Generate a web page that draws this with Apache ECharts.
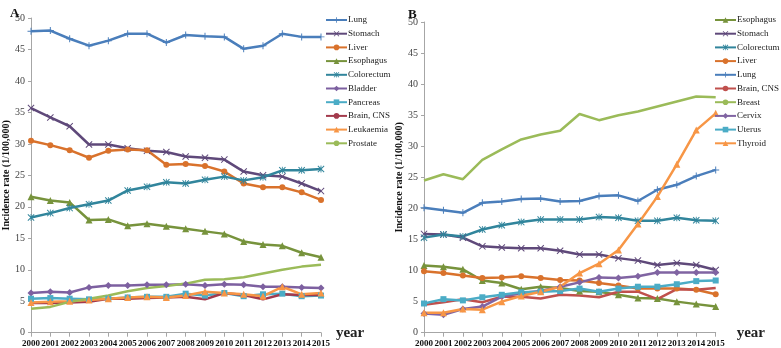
<!DOCTYPE html>
<html>
<head>
<meta charset="utf-8">
<script src="https://cdn.jsdelivr.net/npm/echarts@6/dist/echarts.min.js"></script>
<style>
  html, body { margin: 0; padding: 0; background: #fff; }
  #chart { width: 781px; height: 348px; }
</style>
</head>
<body>
<div id="chart"></div>
<script>
// years (x axis)
var years = ["2000","2001","2002","2003","2004","2005","2006","2007","2008","2009","2010","2011","2012","2013","2014","2015"];

// panel A
var aLung      = [47.9,48.0,46.7,45.6,46.4,47.5,47.5,46.1,47.3,47.1,47.0,45.1,45.6,47.5,47.0,47.0];
var aStomach   = [35.7,34.2,32.8,29.9,29.9,29.3,28.9,28.7,28.0,27.8,27.5,25.6,25.0,24.8,23.7,22.5];
var aLiver     = [30.5,29.8,29.0,27.8,28.9,29.1,29.0,26.7,26.8,26.5,25.6,23.7,23.1,23.1,22.3,21.1];
var aEsophagus = [21.6,21.0,20.7,17.9,18.0,17.0,17.3,16.9,16.5,16.1,15.7,14.5,14.0,13.8,12.7,12.0];
var aColorect  = [18.3,19.0,19.8,20.4,21.0,22.6,23.2,23.9,23.7,24.3,24.8,24.2,24.7,25.8,25.8,26.0];
var aBladder   = [6.3,6.5,6.4,7.2,7.5,7.5,7.6,7.6,7.7,7.5,7.7,7.6,7.3,7.3,7.2,7.1];
var aPancreas  = [5.4,5.5,5.4,5.3,5.4,5.6,5.7,5.7,6.2,5.9,6.3,5.8,6.1,6.2,5.8,5.9];
var aBrain     = [4.7,4.7,4.8,4.9,5.4,5.4,5.5,5.6,5.7,5.3,6.3,6.0,5.3,6.1,6.0,6.0];
var aLeuk      = [4.8,4.9,5.0,5.2,5.4,5.6,5.7,5.6,5.9,6.5,6.3,6.1,5.8,7.3,6.1,6.3];
var aProstate  = [3.8,4.1,4.9,5.4,5.9,6.6,7.1,7.4,7.8,8.4,8.5,8.8,9.4,10.0,10.5,10.8];

// panel B
var bEsophagus = [10.8,10.6,10.2,8.4,8.0,7.0,7.4,7.2,6.7,6.6,6.1,5.6,5.5,5.0,4.6,4.2];
var bStomach   = [15.9,15.8,15.3,13.9,13.7,13.6,13.6,13.2,12.6,12.6,12.0,11.6,10.9,11.2,10.9,10.1];
var bColorect  = [15.3,15.8,15.5,16.6,17.3,17.8,18.2,18.2,18.2,18.6,18.5,18.0,18.0,18.5,18.1,18.0];
var bLiver     = [9.9,9.6,9.2,8.8,8.9,9.1,8.8,8.5,8.4,8.0,7.6,7.1,7.1,7.1,6.9,6.2];
var bLung      = [20.1,19.7,19.3,20.9,21.1,21.5,21.6,21.1,21.2,22.0,22.1,21.2,23.0,23.8,25.2,26.2];
var bBrain     = [4.5,4.9,5.4,4.9,5.8,5.8,5.5,6.1,6.0,5.7,6.6,6.6,5.4,7.0,6.9,7.2];
var bBreast    = [24.5,25.5,24.7,27.8,29.5,31.1,31.9,32.5,35.2,34.2,35.0,35.6,36.4,37.2,38.0,37.9];
var bCervix    = [3.1,2.9,3.8,4.2,5.8,6.4,6.7,7.4,8.1,8.9,8.8,9.1,9.7,9.7,9.7,9.7];
var bUterus    = [4.7,5.4,5.2,5.7,6.1,6.5,6.6,6.7,7.1,6.6,7.1,7.4,7.4,7.8,8.3,8.4];
var bThyroid   = [3.2,3.2,3.8,3.7,5.0,5.9,6.6,7.4,9.6,11.1,13.3,17.5,21.9,27.1,32.6,35.3];

var FONT = "Liberation Serif";
var PLUS = "path://M4.3,0h1.4v4.3h4.3v1.4h-4.3v4.3h-1.4v-4.3h-4.3v-1.4h4.3z";
var CROSS = "path://M0,1L1,0L5,4L9,0L10,1L6,5L10,9L9,10L5,6L1,10L0,9L4,5Z";
var STAR = "path://M0,1L1,0L5,4L9,0L10,1L6,5L10,9L9,10L5,6L1,10L0,9L4,5Z M4.4,0h1.2v10h-1.2z";

function mk(name, data, color, symbol, idx) {
  return {
    name: name,
    type: "line",
    xAxisIndex: idx,
    yAxisIndex: idx,
    data: data,
    symbol: symbol || "none",
    symbolSize: symbol === "circle" || symbol === "rect" ? 6 : 7,
    showSymbol: !!symbol,
    lineStyle: { width: 2.5, color: color },
    itemStyle: { color: color },
    animation: false
  };
}

function xAx(idx, gap) {
  return {
    type: "category",
    gridIndex: idx,
    data: years,
    boundaryGap: false,
    name: "year",
    nameLocation: "end",
    nameGap: gap,
    nameTextStyle: { fontFamily: FONT, fontWeight: "bold", fontSize: 15, color: "#222", verticalAlign: "middle" },
    axisLine: { lineStyle: { color: "#a6a6a6" } },
    axisTick: { show: true, length: 4, lineStyle: { color: "#a6a6a6" } },
    axisLabel: { interval: 0, fontFamily: FONT, fontWeight: "bold", fontSize: 9, color: "#111", margin: 6 },
    splitLine: { show: false }
  };
}

function yAx(idx, gap) {
  return {
    type: "value",
    gridIndex: idx,
    min: 0, max: 50, interval: 5,
    name: "Incidence rate (1/100,000)",
    nameLocation: "middle",
    nameRotate: 90,
    nameGap: gap,
    nameTextStyle: { fontFamily: FONT, fontWeight: "bold", fontSize: 10, color: "#111" },
    axisLine: { show: true, lineStyle: { color: "#a6a6a6" } },
    axisTick: { show: true, length: 3, lineStyle: { color: "#a6a6a6" } },
    axisLabel: { fontFamily: FONT, fontSize: 10, color: "#444", margin: 6 },
    splitLine: { show: false }
  };
}

function lg(left, names) {
  return {
    orient: "vertical",
    left: left,
    top: 15,
    padding: 0,
    data: names,
    itemWidth: 21,
    itemHeight: 7,
    itemGap: 3.7,
    textStyle: { fontFamily: FONT, fontSize: 9, color: "#222", lineHeight: 10, padding: [0, 0, 0, -4] }
  };
}

var chart = echarts.init(document.getElementById("chart"));
var option = {
  backgroundColor: "#fff",
  title: [
    { text: "A", left: 5, top: 2, textStyle: { fontFamily: FONT, fontWeight: "bold", fontSize: 13, color: "#111" } },
    { text: "B", left: 403, top: 3, textStyle: { fontFamily: FONT, fontWeight: "bold", fontSize: 13, color: "#111" } }
  ],
  grid: [
    { left: 28, top: 18, width: 293, height: 314.7 },
    { left: 424, top: 22, width: 291.7, height: 310.7 }
  ],
  xAxis: [xAx(0, 12), xAx(1, 21)],
  yAxis: [yAx(0, 20), yAx(1, 18)],
  legend: [
    lg(325, ["Lung","Stomach","Liver","Esophagus","Colorectum","Bladder","Pancreas","Brain, CNS","Leukaemia","Prostate"]),
    lg(714, ["Esophagus ","Stomach ","Colorectum ","Liver ","Lung ","Brain, CNS ","Breast","Cervix","Uterus","Thyroid"])
  ],
  series: [
    mk("Lung", aLung, "#4a7ebb", PLUS, 0),
    mk("Stomach", aStomach, "#5f497a", CROSS, 0),
    mk("Liver", aLiver, "#d9722c", "circle", 0),
    mk("Esophagus", aEsophagus, "#77933c", "triangle", 0),
    mk("Colorectum", aColorect, "#31859c", STAR, 0),
    mk("Bladder", aBladder, "#7d60a0", "diamond", 0),
    mk("Pancreas", aPancreas, "#4bacc6", "rect", 0),
    mk("Brain, CNS", aBrain, "#a33a4c", null, 0),
    mk("Leukaemia", aLeuk, "#f79646", "triangle", 0),
    mk("Prostate", aProstate, "#9bbb59", null, 0),

    mk("Esophagus ", bEsophagus, "#77933c", "triangle", 1),
    mk("Stomach ", bStomach, "#5f497a", CROSS, 1),
    mk("Colorectum ", bColorect, "#31859c", STAR, 1),
    mk("Liver ", bLiver, "#d9722c", "circle", 1),
    mk("Lung ", bLung, "#4a7ebb", PLUS, 1),
    mk("Brain, CNS ", bBrain, "#c0504d", null, 1),
    mk("Breast", bBreast, "#9bbb59", null, 1),
    mk("Cervix", bCervix, "#8064a2", "diamond", 1),
    mk("Uterus", bUterus, "#4bacc6", "rect", 1),
    mk("Thyroid", bThyroid, "#f79646", "triangle", 1)
  ]
};
chart.setOption(option);
</script>
</body>
</html>
